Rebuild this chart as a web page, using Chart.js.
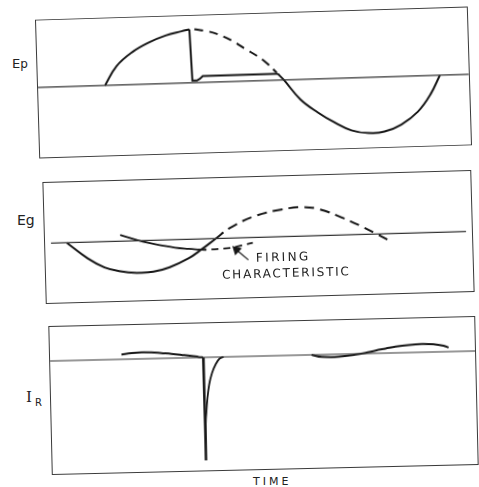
<!DOCTYPE html>
<html>
<head>
<meta charset="utf-8">
<script src="https://cdn.jsdelivr.net/npm/chart.js@4.4.0/dist/chart.umd.min.js"></script>
<style>
  body { margin: 0; background: #fff; }
  #page { position: relative; width: 479px; height: 487px; overflow: hidden; background: #fff; }
  .box { position: absolute; border: 1.3px solid #3a3a3a; }
  .box canvas { display: block; }
  .lbl { position: absolute; font-family: "DejaVu Sans", sans-serif; color: #222; line-height: 1; white-space: nowrap; }
</style>
</head>
<body>
<div id="page">
  <div class="box" id="b1" style="left:36.7px; top:13px; width:431px; height:137px; transform:rotate(-1.75deg)">
    <canvas id="c1" width="431" height="137"></canvas>
  </div>
  <div class="box" id="b2" style="left:44px; top:175.5px; width:427px; height:120px; transform:rotate(-1.6deg)">
    <canvas id="c2" width="427" height="120"></canvas>
  </div>
  <div class="box" id="b3" style="left:50.2px; top:320.5px; width:425px; height:147px; transform:rotate(-1.35deg)">
    <canvas id="c3" width="425" height="147"></canvas>
  </div>

  <div class="lbl" style="left:12px; top:57px; font-size:13px">E<span style="font-size:12px">p</span></div>
  <div class="lbl" style="left:17px; top:213px; font-size:14px">Eg</div>
  <div class="lbl" style="left:26px; top:390px; font-size:15px"><span style="font-family:'DejaVu Serif',serif">I</span><span style="font-size:10px; position:relative; top:4px; margin-left:3px">R</span></div>
  <div class="lbl" style="left:256px; top:251px; font-size:12px; letter-spacing:2.3px; transform:rotate(-1.6deg)">FIRING</div>
  <div class="lbl" style="left:222px; top:267px; font-size:12px; letter-spacing:1.8px; transform:rotate(-1.6deg)">CHARACTERISTIC</div>
  <div class="lbl" style="left:253px; top:476px; font-size:11px; letter-spacing:3px">TIME</div>
</div>

<script>
// plate voltage Ep (peak = 100): rise, drop after firing, then the negative half
epRiseT = [105, 117, 133, 150, 167, 183, 191]
epRiseV = [0, 35, 60, 77, 89, 96, 99]
epStepT = [191, 192.5, 197, 200, 203, 278]
epStepV = [99, 4, 4, 7, 12, 12]
epFallT = [278, 284, 300, 317, 333, 350, 367, 383, 400, 417, 430, 440]
epFallV = [12, 0, -37, -62, -81, -97, -103, -101, -89, -66, -35, 0]
// what Ep would have done without firing (dashed)
epDashT = [196, 208, 220, 234, 247, 258, 267, 277]
epDashV = [99, 95, 88, 75, 59, 46, 33, 14]

// grid voltage Eg
egT = [62, 83, 100, 115, 133, 150, 167, 187, 200, 215]
egV = [0, -51, -81, -94, -101, -99, -86, -59, -33, 0]
egDashT = [215, 230, 257, 283, 305, 323, 347, 367, 382, 395]
egDashV = [0, 33, 69, 86, 92, 83, 53, 23, -2, -24]

// firing characteristic
fireT = [117, 140, 160, 173, 187, 198]
fireV = [20, -3, -17, -25, -30, -33]
fireDashT = [198, 205, 217, 233, 253]
fireDashV = [-33, -34, -33, -29, -16]
arrowT = [248, 236]
arrowV = [-70, -37]

// current IR
irLeftT = [123, 133, 143, 153, 163, 173, 183, 193, 200, 204.5]
irLeftV = [4.7, 6, 6.5, 6.3, 5.3, 4.3, 3.1, 1.8, 0.6, 0]
irSpikeT = [204.5, 205]
irSpikeV = [0, -103]
irBackT = [205, 205.5, 206.5, 208, 210, 213, 217, 221, 225]
irBackV = [-103, -70, -55, -40, -27, -16, -7, -1.5, 0]
irRightT = [313, 323, 340, 357, 367, 377, 387, 397, 410, 423, 435, 445, 450]
irRightV = [0, -2.3, -2.5, -0.8, 0.8, 2.8, 4.5, 6.2, 7.6, 8.2, 7.8, 6, 4.1]

ink = '#161616'

function pts(t, v) {
    return t.map((x, i) => ({ x: x, y: v[i] }))
}

function curve(t, v, dash, extra) {
    let ds = {
        data: pts(t, v),
        borderColor: ink,
        borderWidth: 2,
        pointRadius: 0,
        fill: false,
        cubicInterpolationMode: 'monotone',
        borderDash: dash ? [9, 6] : []
    }
    return Object.assign(ds, extra || {})
}

function zeroLine(xmin, xmax) {
    return { data: pts([xmin, xmax], [0, 0]), borderColor: '#333', borderWidth: 1.2, pointRadius: 0, fill: false }
}

function panel(id, xmin, xmax, ymin, ymax, sets) {
    new Chart(document.getElementById(id), {
        type: 'line',
        data: { datasets: [zeroLine(xmin, xmax)].concat(sets) },
        options: {
            responsive: false,
            animation: false,
            events: [],
            layout: { padding: 0 },
            plugins: { legend: { display: false }, tooltip: { enabled: false } },
            scales: {
                x: { type: 'linear', min: xmin, max: xmax, display: false },
                y: { type: 'linear', min: ymin, max: ymax, display: false }
            }
        }
    })
}

smooth = { cubicInterpolationMode: 'default', tension: 0.4 }
sharp = { cubicInterpolationMode: 'default', tension: 0 }

panel('c1', 38, 469, -129.7, 124, [
    curve(epRiseT, epRiseV, false, smooth),
    curve(epStepT, epStepV, false, sharp),
    curve(epFallT, epFallV, false, smooth),
    curve(epDashT, epDashV, true, smooth)
])

panel('c2', 45.5, 472.5, -170, 173, [
    curve(egT, egV, false, smooth),
    curve(egDashT, egDashV, true, Object.assign({ borderDash: [10, 6] }, smooth)),
    curve(fireT, fireV, false, Object.assign({ borderWidth: 1.8 }, smooth)),
    curve(fireDashT, fireDashV, true, { borderDash: [7, 5], borderWidth: 1.8 }),
    {
        data: pts(arrowT, arrowV),
        borderColor: ink,
        borderWidth: 1.2,
        pointRadius: [0, 4.5],
        pointStyle: 'triangle',
        rotation: -45,
        pointBackgroundColor: ink,
        pointBorderColor: ink,
        fill: false
    }
])

panel('c3', 51.6, 476.3, -113, 34, [
    curve(irLeftT, irLeftV, false, smooth),
    curve(irSpikeT, irSpikeV, false, Object.assign({ borderWidth: 2.2 }, sharp)),
    curve(irBackT, irBackV, false, { borderWidth: 1.8 }),
    curve(irRightT, irRightV, false, smooth)
])
</script>
</body>
</html>
